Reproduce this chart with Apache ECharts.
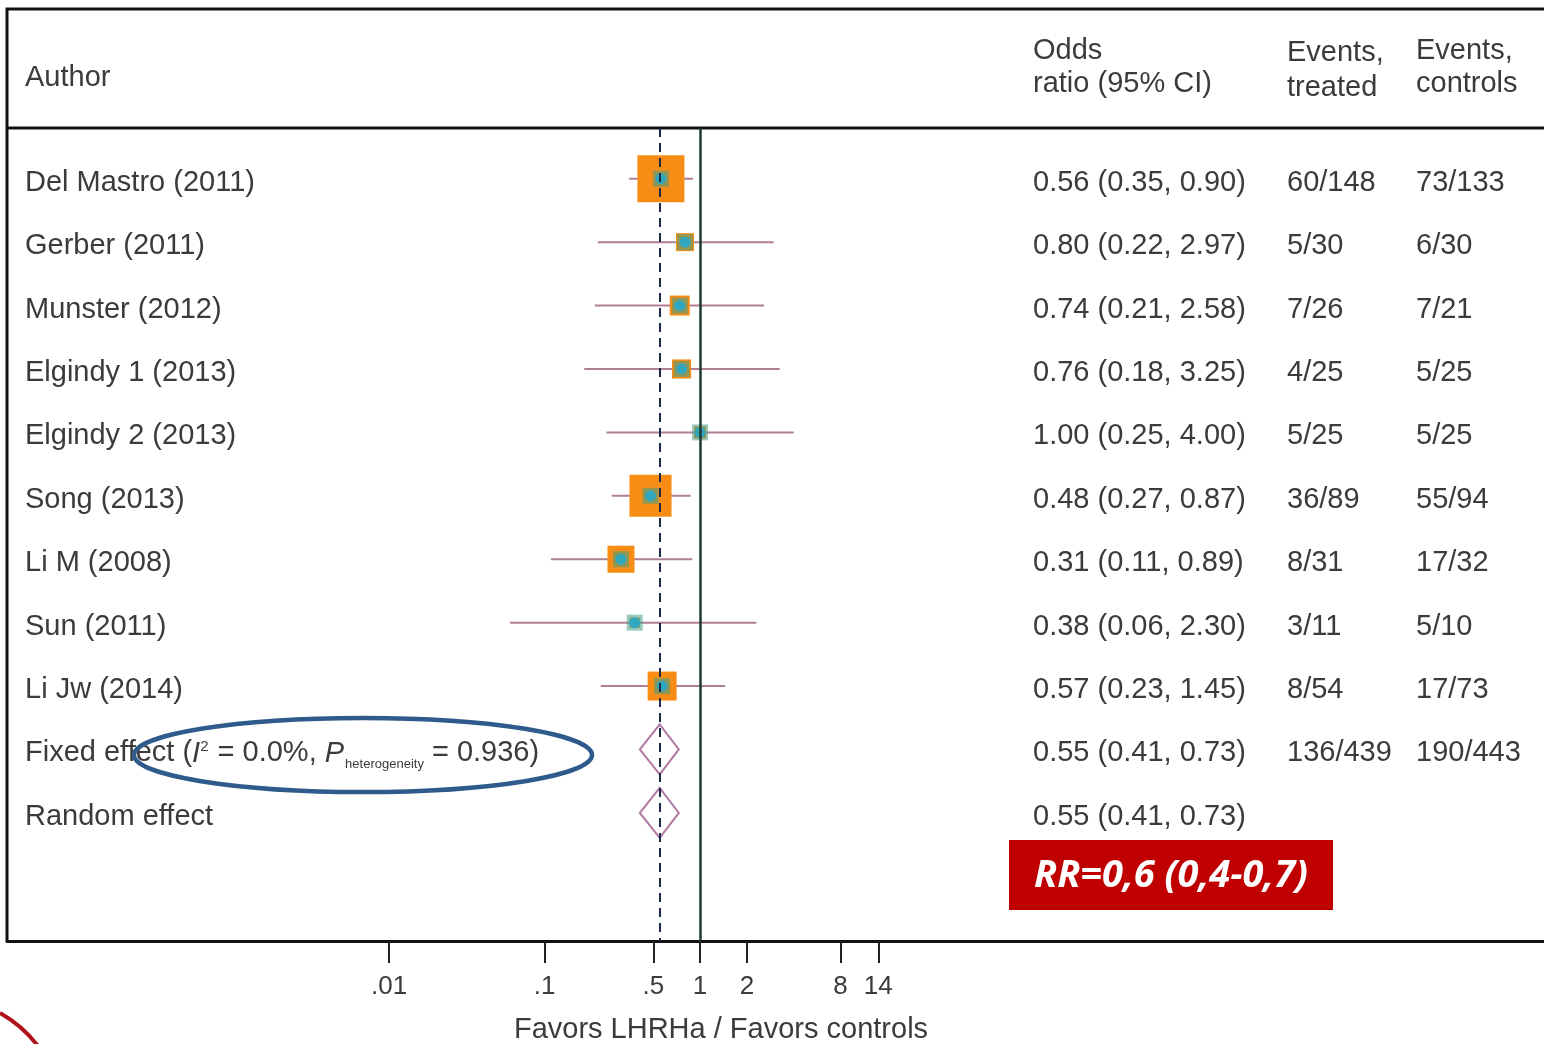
<!DOCTYPE html>
<html>
<head>
<meta charset="utf-8">
<script src="https://cdn.jsdelivr.net/npm/echarts@6/dist/echarts.min.js"></script>
<style>
  html, body { margin: 0; padding: 0; background: #fff; }
  #main { width: 1544px; height: 1044px; }
</style>
</head>
<body>
<div id="main"></div>
<script>
var myChart = echarts.init(document.getElementById('main'));

// studies
var authors = ['Del Mastro (2011)', 'Gerber (2011)', 'Munster (2012)', 'Elgindy 1 (2013)', 'Elgindy 2 (2013)',
               'Song (2013)', 'Li M (2008)', 'Sun (2011)', 'Li Jw (2014)'];
var oddsRatio = [0.56, 0.80, 0.74, 0.76, 1.00, 0.48, 0.31, 0.38, 0.57];
var ciLow     = [0.35, 0.22, 0.21, 0.18, 0.25, 0.27, 0.11, 0.06, 0.23];
var ciHigh    = [0.90, 2.97, 2.58, 3.25, 4.00, 0.87, 0.89, 2.30, 1.45];
var weights   = [32.1, 4.7, 5.8, 5.3, 2.1, 25.7, 10.6, 1.5, 12.2];
var eventsTreated  = ['60/148', '5/30', '7/26', '4/25', '5/25', '36/89', '8/31', '3/11', '8/54'];
var eventsControls = ['73/133', '6/30', '7/21', '5/25', '5/25', '55/94', '17/32', '5/10', '17/73'];

// pooled estimates
var pooledNames = ['Fixed effect', 'Random effect'];
var pooledOr    = [0.55, 0.55];
var pooledLow   = [0.41, 0.41];
var pooledHigh  = [0.73, 0.73];
var pooledTreated  = ['136/439', ''];
var pooledControls = ['190/443', ''];
var iSquared = '0.0%';
var pHeterogeneity = '0.936';

// axis
var tickValues = [0.01, 0.1, 0.5, 1, 2, 8, 14];
var tickLabels = ['.01', '.1', '.5', '1', '2', '8', '14'];

var lg = function (v) { return Math.log(v) / Math.LN10; };
var fmt = function (v) { return v.toFixed(2); };

var textColor = '#3b3b3b';
var font = 'Liberation Sans, Arial, sans-serif';
var colX = [25, 1033, 1287, 1416];

var studyData = authors.map(function (a, i) {
  return [lg(oddsRatio[i]), i, lg(ciLow[i]), lg(ciHigh[i]), weights[i]];
});
var pooledData = pooledNames.map(function (n, i) {
  return [lg(pooledOr[i]), authors.length + i, lg(pooledLow[i]), lg(pooledHigh[i])];
});

var tableRows = [];
authors.forEach(function (a, i) {
  tableRows.push({ value: [0, i], label: a,
    ci: fmt(oddsRatio[i]) + ' (' + fmt(ciLow[i]) + ', ' + fmt(ciHigh[i]) + ')',
    t: eventsTreated[i], c: eventsControls[i] });
});
pooledNames.forEach(function (n, i) {
  var label = n;
  if (i === 0) {
    label = n + ' ({i|I}{sup|2}{n| = ' + iSquared + ', }{i|P}{sub|heterogeneity}{n| = ' + pHeterogeneity + ')}';
  }
  tableRows.push({ value: [0, authors.length + i], label: label,
    ci: fmt(pooledOr[i]) + ' (' + fmt(pooledLow[i]) + ', ' + fmt(pooledHigh[i]) + ')',
    t: pooledTreated[i], c: pooledControls[i] });
});

function cellText(x, y, text, rich) {
  return {
    type: 'text', x: x, y: y,
    style: { text: text, fill: textColor, font: '29px ' + font, fontSize: 29, fontFamily: font,
             textVerticalAlign: 'middle', verticalAlign: 'middle', rich: rich }
  };
}

var richFixed = {
  i: { fontStyle: 'italic', fontSize: 29, fontFamily: font, fill: textColor, color: textColor },
  n: { fontSize: 29, fontFamily: font, fill: textColor, color: textColor },
  sup: { fontSize: 15, fontFamily: font, padding: [0, 1, 14, 0], fill: textColor, color: textColor },
  sub: { fontSize: 13, fontFamily: font, padding: [22, 0, 0, 1], fill: textColor, color: textColor }
};

var option = {
  backgroundColor: '#ffffff',
  animation: false,
  grid: { left: 7, right: 0, top: 128, bottom: 103 },
  xAxis: {
    type: 'value',
    min: -4.457,
    max: 5.427,
    axisLine: { show: true, onZero: false, lineStyle: { color: '#111', width: 3 } },
    axisTick: { show: true, customValues: tickValues.map(lg), length: 22, lineStyle: { color: '#222', width: 2 } },
    axisLabel: {
      customValues: tickValues.map(lg),
      margin: 33,
      color: textColor,
      fontSize: 26,
      fontFamily: font,
      formatter: function (v) {
        for (var k = 0; k < tickValues.length; k++) {
          if (Math.abs(lg(tickValues[k]) - v) < 1e-6) return tickLabels[k];
        }
        return '';
      }
    },
    splitLine: { show: false }
  },
  yAxis: { type: 'value', show: false, inverse: true, min: -0.8, max: 12.02 },
  series: [
    {
      // reference lines: no effect (1) and pooled estimate
      type: 'line', data: [], z: 1,
      markLine: {
        silent: true, symbol: 'none', label: { show: false },
        data: [
          { xAxis: lg(1), lineStyle: { color: '#1d3a30', width: 2.5, type: 'solid' } },
          { xAxis: lg(pooledOr[0]), lineStyle: { color: '#1c2a48', width: 2, type: [9, 6] } }
        ]
      }
    },
    {
      type: 'custom', name: 'studies', z: 3,
      data: studyData,
      renderItem: function (params, api) {
        var row = api.value(1);
        var c = api.coord([api.value(0), row]);
        var l = api.coord([api.value(2), row]);
        var h = api.coord([api.value(3), row]);
        var s = Math.sqrt(api.value(4)) * 8.3;
        return {
          type: 'group',
          children: [
            { type: 'line', shape: { x1: l[0], y1: c[1], x2: h[0], y2: c[1] }, style: { stroke: '#b07f96', lineWidth: 2 } },
            { type: 'rect', shape: { x: c[0] - s / 2, y: c[1] - s / 2, width: s, height: s }, style: { fill: '#f78d14' } },
            { type: 'rect', shape: { x: c[0] - 8, y: c[1] - 8, width: 16, height: 16 }, style: { fill: '#3f9e86', opacity: 0.55 } },
            { type: 'circle', shape: { cx: c[0], cy: c[1], r: 5.5 }, style: { fill: '#1eaad2', opacity: 0.85 } }
          ]
        };
      }
    },
    {
      type: 'custom', name: 'pooled', z: 3,
      data: pooledData,
      renderItem: function (params, api) {
        var row = api.value(1);
        var c = api.coord([api.value(0), row]);
        var l = api.coord([api.value(2), row]);
        var h = api.coord([api.value(3), row]);
        return {
          type: 'polygon',
          shape: { points: [[l[0], c[1]], [c[0], c[1] - 25], [h[0], c[1]], [c[0], c[1] + 25]] },
          style: { fill: 'none', stroke: '#b27aa2', lineWidth: 2 }
        };
      }
    },
    {
      type: 'custom', name: 'table', z: 4,
      data: tableRows,
      renderItem: function (params, api) {
        var r = tableRows[params.dataIndex];
        var y = api.coord([0, api.value(1)])[1] + 4;
        return {
          type: 'group',
          children: [
            cellText(colX[0], y, r.label, richFixed),
            cellText(colX[1], y, r.ci),
            cellText(colX[2], y, r.t),
            cellText(colX[3], y, r.c)
          ]
        };
      }
    }
  ],
  graphic: [
    // frame
    { type: 'polyline', shape: { points: [[1544, 9], [7, 9], [7, 941]] }, style: { stroke: '#111', lineWidth: 3, fill: 'none' } },
    { type: 'line', shape: { x1: 7, y1: 128, x2: 1544, y2: 128 }, style: { stroke: '#111', lineWidth: 3 } },
    // headers
    { type: 'text', x: 25, y: 78, style: { text: 'Author', font: '29px ' + font, fill: textColor, verticalAlign: 'middle' } },
    { type: 'text', x: 1033, y: 67, style: { text: 'Odds\nratio (95% CI)', font: '29px ' + font, lineHeight: 33, fill: textColor, verticalAlign: 'middle' } },
    { type: 'text', x: 1287, y: 70, style: { text: 'Events,\ntreated', font: '29px ' + font, lineHeight: 35, fill: textColor, verticalAlign: 'middle' } },
    { type: 'text', x: 1416, y: 67, style: { text: 'Events,\ncontrols', font: '29px ' + font, lineHeight: 33, fill: textColor, verticalAlign: 'middle' } },
    // axis title
    { type: 'text', x: 721, y: 1030, style: { text: 'Favors LHRHa / Favors controls', font: '29px ' + font, fill: textColor, align: 'center', verticalAlign: 'middle' } },
    // annotations
    { type: 'ellipse', shape: { cx: 363, cy: 755, rx: 229, ry: 37 }, style: { fill: 'none', stroke: '#2f5a8c', lineWidth: 4.5 }, z: 10 },
    { type: 'rect', shape: { x: 1009, y: 840, width: 324, height: 70 }, style: { fill: '#c00000' } },
    { type: 'text', x: 1171, y: 876, z: 11, style: { text: 'RR=0,6 (0,4-0,7)', font: 'italic bold 38px "Open Sans", sans-serif', fill: '#ffffff', align: 'center', verticalAlign: 'middle' } },
    { type: 'bezierCurve', shape: { x1: 0, y1: 1013, cpx1: 16, cpy1: 1022, cpx2: 28, cpy2: 1033, x2: 38, y2: 1046 }, style: { stroke: '#b0101a', lineWidth: 4, fill: 'none' } }
  ]
};

myChart.setOption(option);
</script>
</body>
</html>
